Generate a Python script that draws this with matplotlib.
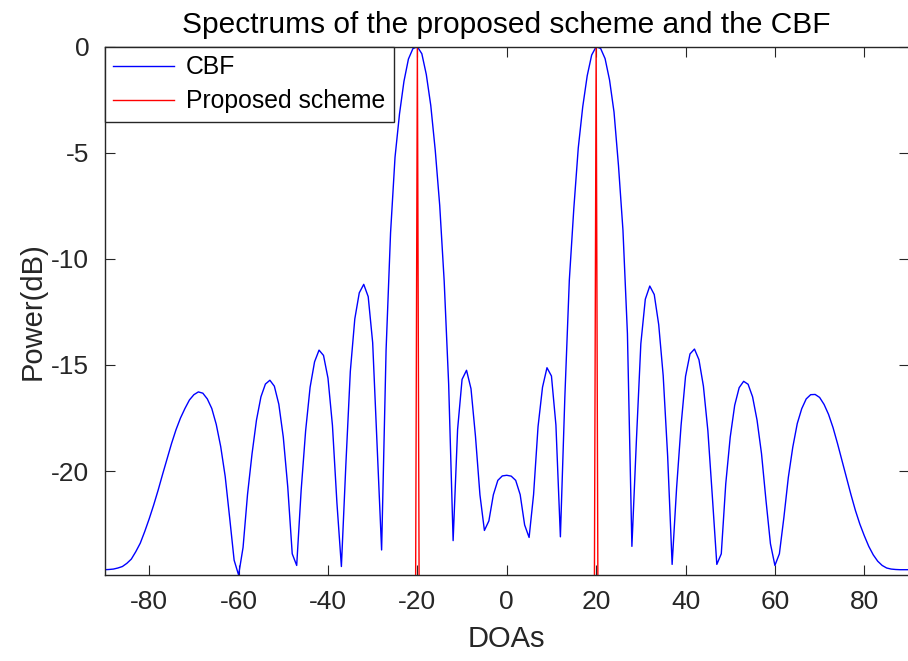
import matplotlib
matplotlib.use('Agg')
import matplotlib.pyplot as plt
import numpy as np

plt.rcParams['font.family'] = ['Liberation Sans', 'DejaVu Sans']

doa_cbf = list(range(-90, 91))
power_cbf = [
    -24.65, -24.64, -24.62, -24.57, -24.50, -24.35, -24.15, -23.80, -23.40, -22.85,  # -90..-81
    -22.25, -21.60, -20.90, -20.15, -19.42, -18.70, -18.05, -17.50, -17.05, -16.65,  # -80..-71
    -16.40, -16.27, -16.33, -16.60, -17.05, -17.80, -18.85, -20.25, -22.20, -24.20,  # -70..-61
    -24.90, -23.60, -21.10, -19.20, -17.60, -16.50, -15.90, -15.72, -16.00, -16.85,  # -60..-51
    -18.40, -20.75, -23.90, -24.45, -20.90, -18.10, -16.05, -14.85, -14.30, -14.55,  # -50..-41
    -15.62, -17.85, -21.50, -24.50, -19.70, -15.30, -12.83, -11.60, -11.20, -11.78,  # -40..-31
    -13.95, -18.80, -23.72, -14.30, -8.78, -5.21, -3.17, -1.63, -0.58, -0.09,        # -30..-21
    0.00, -0.33, -1.31, -2.77, -4.88, -7.48, -11.05, -15.90, -23.28, -18.04,         # -20..-11
    -15.68, -15.25, -16.12, -18.36, -21.12, -22.80, -22.35, -21.12, -20.44, -20.23,  # -10..-1
    -20.20,                                                                          # 0
    -20.24, -20.44, -21.11, -22.54, -23.13, -21.11, -17.91, -16.05, -15.13, -15.52,  # 1..10
    -17.83, -23.10, -16.50, -11.00, -7.64, -4.77, -2.83, -1.37, -0.39, 0.00,         # 11..20
    -0.08, -0.56, -1.57, -3.08, -5.61, -8.65, -13.53, -23.55, -18.60, -14.00,        # 21..30
    -11.90, -11.28, -11.68, -13.10, -15.50, -19.30, -24.40, -20.80, -17.85, -15.54,  # 31..40
    -14.48, -14.25, -14.75, -16.00, -18.10, -21.20, -24.40, -23.90, -20.60, -18.40,  # 41..50
    -16.90, -16.07, -15.77, -15.91, -16.50, -17.60, -19.18, -21.38, -23.43, -24.45,  # 51..60
    -23.90, -22.20, -20.30, -18.87, -17.76, -17.06, -16.60, -16.40, -16.39, -16.53,  # 61..70
    -16.86, -17.33, -17.95, -18.70, -19.50, -20.30, -21.10, -21.85, -22.50, -23.05,  # 71..80
    -23.55, -23.95, -24.25, -24.45, -24.57, -24.62, -24.64, -24.65, -24.65, -24.65,  # 81..90
]

# proposed scheme: sharp spikes at the two DOAs, everything else far below the axis
doa_prop = [-90, -21, -20, -19, 19, 20, 21, 90]
power_prop = [-65, -65, 0, -65, -65, 0, -65, -65]

x_ticks = [-80, -60, -40, -20, 0, 20, 40, 60, 80]
y_ticks = [-20, -15, -10, -5, 0]

axis_color = '#262626'

fig = plt.figure(figsize=(9.08, 6.61), dpi=100)
ax = fig.add_axes([0.1151, 0.1301, 0.886, 0.7992])

ax.plot(doa_cbf, power_cbf, color='blue', linewidth=1.0, label='CBF')
ax.plot(doa_prop, power_prop, color='red', linewidth=1.0, label='Proposed scheme')

ax.set_xlim(-90, 90)
ax.set_ylim(min(power_cbf), 0)
ax.set_xticks(x_ticks)
ax.set_yticks(y_ticks)
ax.set_xticklabels([str(t) for t in x_ticks])
ax.set_yticklabels([str(t) for t in y_ticks])

ax.tick_params(direction='in', length=7, width=0.8, colors=axis_color,
               labelsize=19, top=True, right=True, pad=11)
for spine in ax.spines.values():
    spine.set_color(axis_color)
    spine.set_linewidth(1.0)

ax.set_title('Spectrums of the proposed scheme and the CBF', fontsize=21.5, color='black', pad=10)
ax.set_xlabel('DOAs', fontsize=21, color=axis_color, labelpad=8)
ax.set_ylabel('Power(dB)', fontsize=21, color=axis_color, labelpad=3)

leg = ax.legend(loc='upper left', bbox_to_anchor=(0, 1), borderaxespad=0,
                fancybox=False, framealpha=1, edgecolor=axis_color,
                fontsize=17.8, handlelength=2.45, handletextpad=0.5,
                borderpad=0.35, labelspacing=0.4)
leg.get_frame().set_linewidth(1.0)

fig.savefig('out.png', dpi=100)
